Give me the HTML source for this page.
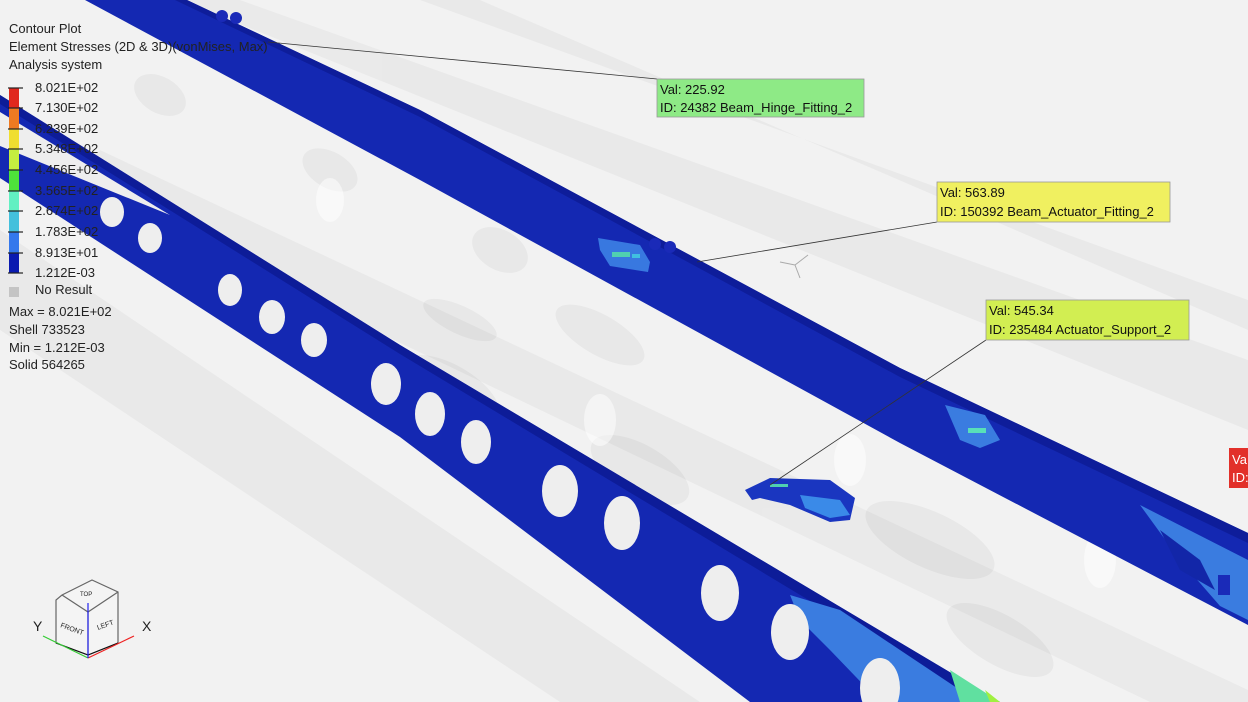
<!DOCTYPE html>
<html><head><meta charset="utf-8"><style>
html,body{margin:0;padding:0;background:#f3f3f3;}
svg{display:block;}
text{font-family:"Liberation Sans","DejaVu Sans",sans-serif;}
</style></head><body>
<svg width="1248" height="702" viewBox="0 0 1248 702" xmlns="http://www.w3.org/2000/svg">
<rect width="1248" height="702" fill="#f2f2f2"/>
<!-- ghost structure -->
<g fill="#000" opacity="0.03">
<polygon points="240,0 1248,360 1248,430 180,0"/>
<polygon points="420,0 1248,300 1248,330 480,0"/>
<polygon points="0,230 700,702 560,702 0,330"/>
<polygon points="100,150 1248,690 1248,702 1150,702 60,180"/>
</g>
<g fill="#000" opacity="0.04">
<ellipse cx="160" cy="95" rx="28" ry="18" transform="rotate(30 160 95)"/>
<ellipse cx="330" cy="170" rx="30" ry="18" transform="rotate(30 330 170)"/>
<ellipse cx="500" cy="250" rx="30" ry="20" transform="rotate(30 500 250)"/>
<ellipse cx="280" cy="300" rx="50" ry="25" transform="rotate(30 280 300)"/>
<ellipse cx="450" cy="390" rx="55" ry="25" transform="rotate(30 450 390)"/>
<ellipse cx="640" cy="470" rx="55" ry="25" transform="rotate(30 640 470)"/>
<ellipse cx="930" cy="540" rx="70" ry="28" transform="rotate(25 930 540)"/>
<ellipse cx="600" cy="335" rx="50" ry="20" transform="rotate(30 600 335)"/>
<ellipse cx="1000" cy="640" rx="60" ry="25" transform="rotate(30 1000 640)"/>
<ellipse cx="460" cy="320" rx="40" ry="14" transform="rotate(25 460 320)"/>
</g>
<g fill="#fff" opacity="0.5">
<ellipse cx="600" cy="420" rx="16" ry="26"/>
<ellipse cx="850" cy="460" rx="16" ry="26"/>
<ellipse cx="1100" cy="560" rx="16" ry="28"/>
<ellipse cx="330" cy="200" rx="14" ry="22"/>
</g>
<!-- upper beam -->
<polygon points="85,0 187,0 420,110 900,368 1248,533 1248,625 900,443 420,180" fill="#1428b2"/>
<polygon points="187,0 420,110 900,368 1248,533 1248,543 900,377 420,117 175,0" fill="#0e1d9a"/>
<!-- upper beam patches -->
<polygon points="598,238 640,245 650,262 648,272 610,266 600,250" fill="#3878e0"/>
<rect x="612" y="252" width="18" height="5" fill="#50d0b0"/>
<rect x="632" y="254" width="8" height="4" fill="#40c0e0"/>
<polygon points="945,405 985,415 1000,440 980,448 960,440" fill="#3a7ce0"/>
<rect x="968" y="428" width="18" height="5" fill="#58e0b8"/>
<polygon points="1140,505 1248,560 1248,620 1220,606 1180,560" fill="#3a7ce0"/>
<polygon points="1160,530 1200,560 1215,590 1180,570" fill="#1226a8"/>
<rect x="1218" y="575" width="12" height="20" fill="#1a2ab8"/>
<!-- hinge lugs -->
<g fill="#1a2ab8"><circle cx="222" cy="16" r="6"/><circle cx="236" cy="18" r="6"/><circle cx="655" cy="244" r="6"/><circle cx="670" cy="247" r="6"/></g>
<!-- lower beam -->
<polygon points="0,95 400,345 1000,702 750,702 400,437 0,178" fill="#1428b2"/>
<polygon points="0,95 400,345 1000,702 978,702 400,354 0,104" fill="#0d1c98"/>
<polygon points="0,112 0,146 170,215" fill="#eeeeee"/>
<!-- lower patches -->
<polygon points="790,595 840,610 900,650 960,690 975,702 880,702 830,650 800,620" fill="#3a7ce0"/>
<polygon points="950,670 1000,702 960,702" fill="#60e0a0"/>
<polygon points="985,690 1000,702 990,702" fill="#a0f040"/>
<!-- holes -->
<g fill="#eeeeee">
<ellipse cx="112" cy="212" rx="12" ry="15"/>
<ellipse cx="150" cy="238" rx="12" ry="15"/>
<ellipse cx="230" cy="290" rx="12" ry="16"/>
<ellipse cx="272" cy="317" rx="13" ry="17"/>
<ellipse cx="314" cy="340" rx="13" ry="17"/>
<ellipse cx="386" cy="384" rx="15" ry="21"/>
<ellipse cx="430" cy="414" rx="15" ry="22"/>
<ellipse cx="476" cy="442" rx="15" ry="22"/>
<ellipse cx="560" cy="491" rx="18" ry="26"/>
<ellipse cx="622" cy="523" rx="18" ry="27"/>
<ellipse cx="720" cy="593" rx="19" ry="28"/>
<ellipse cx="790" cy="632" rx="19" ry="28"/>
<ellipse cx="880" cy="688" rx="20" ry="30"/>
</g>
<!-- actuator part -->
<polygon points="745,490 770,478 830,480 855,498 850,520 830,522 790,505 760,498 752,500" fill="#1a36c0"/>
<polygon points="800,495 840,500 850,515 830,518 805,508" fill="#3a8ae8"/>
<rect x="770" y="484" width="18" height="3" fill="#50d0b0"/>
<!-- small triad -->
<g stroke="#aaa" stroke-width="1" fill="none"><line x1="795" y1="265" x2="780" y2="262"/><line x1="795" y1="265" x2="808" y2="255"/><line x1="795" y1="265" x2="800" y2="278"/></g>
<!-- leaders -->
<g stroke="#333" stroke-width="0.8" fill="none">
<line x1="268" y1="42" x2="657" y2="79"/>
<line x1="697" y1="262" x2="937" y2="222"/>
<line x1="770" y1="485" x2="986" y2="340"/>
</g>
<!-- labels -->
<rect x="657" y="79" width="207" height="38" fill="#8eea86" stroke="#999" stroke-width="0.8"/>
<text x="660" y="94" font-size="13" fill="#111">Val: 225.92</text>
<text x="660" y="112" font-size="13" fill="#111">ID: 24382 Beam_Hinge_Fitting_2</text>
<rect x="937" y="182" width="233" height="40" fill="#f0f060" stroke="#999" stroke-width="0.8"/>
<text x="940" y="197" font-size="13" fill="#111">Val: 563.89</text>
<text x="940" y="216" font-size="13" fill="#111">ID: 150392 Beam_Actuator_Fitting_2</text>
<rect x="986" y="300" width="203" height="40" fill="#d2ee52" stroke="#999" stroke-width="0.8"/>
<text x="989" y="315" font-size="13" fill="#111">Val: 545.34</text>
<text x="989" y="334" font-size="13" fill="#111">ID: 235484 Actuator_Support_2</text>
<rect x="1229" y="448" width="20" height="40" fill="#e2302a"/>
<text x="1232" y="464" font-size="13" fill="#fff">Va</text>
<text x="1232" y="482" font-size="13" fill="#fff">ID:</text>
<!-- legend -->
<g font-size="13" fill="#222">
<text x="9" y="33">Contour Plot</text>
<text x="9" y="51">Element Stresses (2D &amp; 3D)(vonMises, Max)</text>
<text x="9" y="69">Analysis system</text>
</g>
<rect x="9" y="88" width="10" height="20" fill="#e0281e"/>
<rect x="9" y="108" width="10" height="21" fill="#ee7a22"/>
<rect x="9" y="129" width="10" height="20" fill="#f0de30"/>
<rect x="9" y="149" width="10" height="21" fill="#c4ee40"/>
<rect x="9" y="170" width="10" height="21" fill="#4ee23a"/>
<rect x="9" y="191" width="10" height="20" fill="#62f0c2"/>
<rect x="9" y="211" width="10" height="21" fill="#44c0dc"/>
<rect x="9" y="232" width="10" height="21" fill="#3478ec"/>
<rect x="9" y="253" width="10" height="20" fill="#0a1ab0"/>
<g stroke="#222" stroke-width="1.2">
<line x1="8" y1="88" x2="23" y2="88"/><line x1="8" y1="108" x2="23" y2="108"/><line x1="8" y1="129" x2="23" y2="129"/><line x1="8" y1="149" x2="23" y2="149"/><line x1="8" y1="170" x2="23" y2="170"/><line x1="8" y1="191" x2="23" y2="191"/><line x1="8" y1="211" x2="23" y2="211"/><line x1="8" y1="232" x2="23" y2="232"/><line x1="8" y1="253" x2="23" y2="253"/><line x1="8" y1="273" x2="23" y2="273"/>
</g>
<g font-size="13" fill="#222">
<text x="35" y="92">8.021E+02</text>
<text x="35" y="112">7.130E+02</text>
<text x="35" y="133">6.239E+02</text>
<text x="35" y="153">5.348E+02</text>
<text x="35" y="174">4.456E+02</text>
<text x="35" y="195">3.565E+02</text>
<text x="35" y="215">2.674E+02</text>
<text x="35" y="236">1.783E+02</text>
<text x="35" y="257">8.913E+01</text>
<text x="35" y="277">1.212E-03</text>
<text x="35" y="294">No Result</text>
<text x="9" y="316">Max =  8.021E+02</text>
<text x="9" y="334">Shell 733523</text>
<text x="9" y="352">Min =  1.212E-03</text>
<text x="9" y="369">Solid 564265</text>
</g>
<rect x="9" y="287" width="10" height="10" fill="#c4c4c4"/>
<!-- view cube -->
<g stroke="#666" stroke-width="1.2" fill="#f4f4f4">
<path d="M62,595 L92,580 L118,592 L118,643 L88,655 L56,643 L56,600 Z"/>
<path d="M62,595 L88,612 L118,592" fill="none"/>
<line x1="88" y1="612" x2="88" y2="655"/>
</g>
<g stroke="#111" stroke-width="1.2"><line x1="56" y1="643" x2="88" y2="655"/><line x1="88" y1="655" x2="118" y2="643"/></g>
<text x="60" y="627" font-size="7" fill="#222" transform="rotate(20 60 627)">FRONT</text>
<text x="98" y="630" font-size="7" fill="#222" transform="rotate(-20 98 630)">LEFT</text>
<text x="80" y="596" font-size="6" fill="#222">TOP</text>
<line x1="88" y1="658" x2="43" y2="636" stroke="#3c3" stroke-width="1.2"/>
<line x1="88" y1="658" x2="134" y2="636" stroke="#e22" stroke-width="1.2"/>
<line x1="88" y1="658" x2="88" y2="603" stroke="#22e" stroke-width="1.2"/>
<text x="33" y="631" font-size="14" fill="#222">Y</text>
<text x="142" y="631" font-size="14" fill="#222">X</text>
</svg>
</body></html>
